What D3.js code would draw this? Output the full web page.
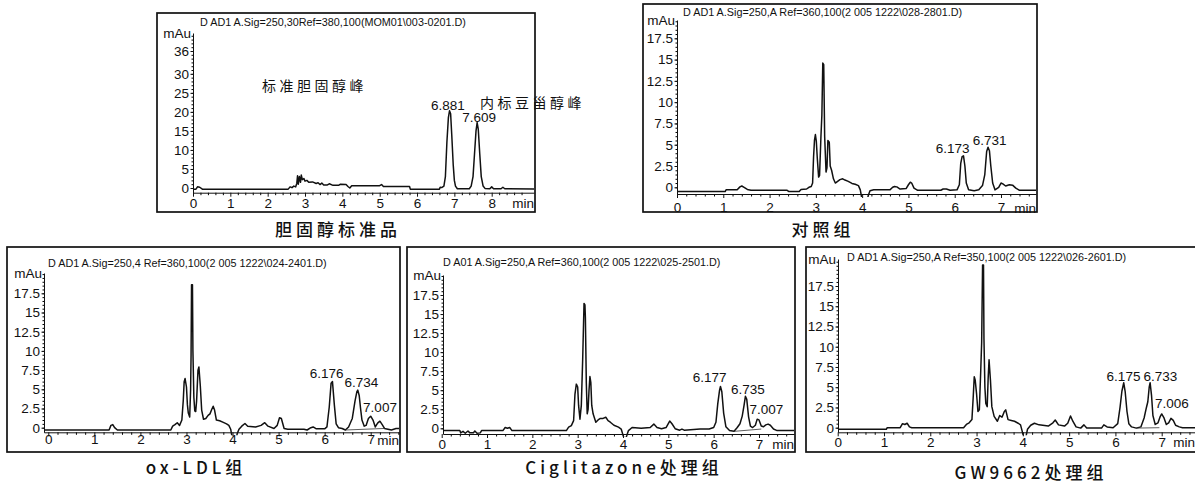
<!DOCTYPE html>
<html>
<head>
<meta charset="utf-8">
<script src="https://cdn.jsdelivr.net/npm/d3@7"></script>
<style>
  body { margin: 0; background: #fff; }
  svg text { font-family: "Liberation Sans", Arial, Helvetica, sans-serif; fill: #111; }
  .cjk { font-family: "Noto Sans CJK SC", "Liberation Sans", sans-serif; }
</style>
</head>
<body>
<svg id="chart" width="1195" height="485"></svg>
<script>
// chromatogram traces, [time (min), signal (mAu)]
const stdTrace = [
  [0,-0.3],[0.08,-0.3],[0.12,0.3],[0.18,0.2],[0.25,-0.3],[2.55,-0.3],[2.6,0.3],[2.65,0.1],[2.7,0.5],
  [2.75,0.3],[2.78,1.2],[2.8,3.2],[2.82,1.0],[2.85,3.0],[2.88,1.5],[2.9,3.4],[2.93,2.2],[2.97,2.5],
  [3.0,1.8],[3.05,2.0],[3.1,1.5],[3.2,1.6],[3.3,1.2],[3.35,1.4],[3.4,0.9],[3.45,1.3],[3.5,0.8],
  [3.6,0.8],[3.65,1.1],[3.75,0.7],[3.9,0.7],[3.95,1.0],[4.1,0.9],[4.15,0.4],[4.2,0],[4.25,0.6],
  [4.5,0.6],[5.0,0.6],[5.05,0.9],[5.1,0.4],[5.8,0.4],[5.82,-0.3],[6.6,-0.3],[6.62,0.2],[6.66,0.1],
  [6.72,0.5],[6.76,3],[6.8,12],[6.84,18.5],[6.87,20.3],[6.9,19.5],[6.93,14],[6.97,6],[7.0,2],
  [7.03,0.5],[7.08,-0.2],[7.4,-0.2],[7.45,0.5],[7.5,3],[7.54,9],[7.58,15],[7.61,17.2],[7.64,15.5],
  [7.68,9],[7.72,3],[7.77,0.5],[7.82,-0.1],[7.95,-0.2],[8.0,0.3],[8.05,-0.2],[8.25,-0.2],[8.3,0.2],
  [8.35,-0.2],[9.2,-0.3]
];
const ctrlTrace = [
  [0,-0.5],[1.04,-0.5],[1.06,-0.3],[1.3,-0.3],[1.36,0.05],[1.4,0.15],[1.45,0.0],[1.52,-0.25],[1.6,-0.35],
  [2.38,-0.35],[2.42,-0.5],[2.64,-0.5],[2.68,-0.25],[2.8,-0.2],[2.85,0.0],[2.9,0.1],[2.93,0.5],[2.95,3.5],
  [2.97,5.5],[2.99,6.2],[3.01,5.4],[3.03,3.5],[3.06,1.2],[3.08,1.4],[3.11,6],[3.13,8.5],[3.15,14.6],
  [3.17,14.4],[3.19,6],[3.22,1.8],[3.24,2.3],[3.26,5.5],[3.29,5.3],[3.31,2.5],[3.34,2.0],[3.38,1.0],
  [3.42,0.5],[3.47,0.7],[3.52,0.9],[3.58,1.0],[3.63,0.85],[3.7,0.7],[3.78,0.45],[3.85,0.35],[3.92,0.2],
  [3.96,-0.3],[3.99,-1.2],[4.05,-2],[4.1,-2],[4.13,-1.0],[4.17,-0.4],[4.25,-0.3],[4.6,-0.3],[4.66,0.0],
  [4.7,0.1],[4.75,0.05],[4.82,-0.2],[4.95,-0.15],[5.0,0.3],[5.04,0.6],[5.07,0.5],[5.12,-0.1],[5.2,-0.35],
  [5.7,-0.35],[5.75,-0.2],[5.82,-0.2],[5.9,-0.35],[6.05,-0.3],[6.1,0.3],[6.13,2.8],[6.16,3.6],[6.19,3.7],
  [6.22,2.5],[6.25,0.5],[6.3,-0.3],[6.42,-0.4],[6.52,-0.3],[6.6,0.2],[6.65,1.5],[6.69,4.2],[6.72,4.7],
  [6.75,4.3],[6.78,2.5],[6.82,0.5],[6.87,-0.3],[6.95,0.0],[7.0,0.5],[7.04,0.4],[7.1,0.15],[7.18,0.3],
  [7.25,0.25],[7.32,-0.1],[7.4,-0.35],[7.9,-0.35]
];
const oxldlTrace = [
  [-0.1,-0.3],[1.32,-0.3],[1.36,0.3],[1.4,0.4],[1.44,0.0],[1.5,-0.3],[2.66,-0.3],[2.7,0.2],[2.75,0.4],
  [2.8,0.65],[2.85,0.3],[2.9,1.0],[2.93,3.5],[2.95,6.0],[2.97,6.4],[3.0,5.3],[3.02,3],[3.04,1.9],
  [3.07,1.4],[3.09,5],[3.1,9.5],[3.11,18.6],[3.13,18.6],[3.14,10],[3.16,4],[3.18,2.2],[3.2,2.1],
  [3.22,3.5],[3.25,7.5],[3.27,7.9],[3.3,5.5],[3.33,2.3],[3.37,1.1],[3.42,1.2],[3.47,1.6],[3.51,1.8],
  [3.55,2.4],[3.58,2.8],[3.61,2.3],[3.65,1.0],[3.72,0.9],[3.8,0.7],[3.87,0.5],[3.92,0.3],[3.96,-0.2],
  [3.99,-1.2],[4.03,-2],[4.07,-2],[4.1,-0.8],[4.14,-0.2],[4.2,0.2],[4.27,0.55],[4.33,0.2],[4.5,0.1],
  [4.62,0.3],[4.7,0.65],[4.77,0.2],[4.9,-0.1],[4.97,0.3],[5.02,1.3],[5.06,1.2],[5.12,-0.1],[5.2,-0.2],
  [5.55,-0.2],[5.62,-0.3],[5.7,0.0],[5.75,0.1],[5.82,-0.15],[6.0,-0.15],[6.05,0.1],[6.1,2.7],[6.14,5.8],
  [6.17,6.0],[6.21,3],[6.25,0.5],[6.3,0.0],[6.38,-0.1],[6.45,-0.3],[6.52,0.1],[6.6,1.2],[6.66,3.5],
  [6.7,4.7],[6.72,4.9],[6.75,4.2],[6.78,2.5],[6.81,1.0],[6.86,0.2],[6.9,0.3],[6.95,1.2],[7.0,1.5],
  [7.05,1.0],[7.1,0.1],[7.15,0.6],[7.2,0.85],[7.25,0.4],[7.3,-0.1],[7.45,-0.3],[7.55,-0.1],[7.7,-0.1]
];
const cigTrace = [
  [0,-0.3],[0.4,-0.3],[0.42,-0.6],[0.47,-0.4],[0.52,-0.65],[0.58,-0.35],[0.62,-0.6],[0.7,-0.6],
  [0.73,-0.35],[0.78,-0.65],[0.85,-0.6],[0.88,-0.3],[1.35,-0.3],[1.4,0.1],[1.45,0.0],[1.5,0.1],
  [1.55,-0.3],[2.75,-0.3],[2.8,0.15],[2.86,0.35],[2.91,1.0],[2.94,4.5],[2.97,5.8],[3.0,5.4],[3.02,3],
  [3.05,1.2],[3.08,3],[3.11,9],[3.14,16.4],[3.16,16.2],[3.17,14.5],[3.19,6],[3.21,1.9],[3.23,2.5],
  [3.25,5],[3.27,6.8],[3.29,6],[3.31,3],[3.34,1.9],[3.4,0.8],[3.45,1.1],[3.5,1.3],[3.56,1.3],
  [3.62,1.45],[3.67,1.0],[3.72,0.8],[3.8,0.4],[3.9,0.15],[3.96,-0.1],[4.0,-0.9],[4.04,-1.6],
  [4.08,-1.0],[4.12,-0.3],[4.2,0.1],[4.4,0.0],[4.6,0.1],[4.68,0.55],[4.75,0.1],[4.85,-0.05],
  [4.95,0.1],[5.03,0.95],[5.08,0.6],[5.15,-0.05],[5.25,-0.25],[5.3,-0.1],[5.35,-0.25],[5.7,-0.1],
  [5.9,-0.1],[6.0,0.1],[6.05,0.8],[6.09,3.2],[6.13,5.0],[6.15,5.5],[6.18,4.8],[6.22,2],[6.27,0.2],
  [6.35,-0.3],[6.45,-0.4],[6.52,0.1],[6.58,0.6],[6.63,1.6],[6.67,3.0],[6.7,4.2],[6.73,3.8],[6.77,1.5],
  [6.81,0.3],[6.86,0.1],[6.92,0.4],[6.96,1.2],[7.0,1.1],[7.05,0.3],[7.1,0.2],[7.15,0.45],[7.2,0.55],
  [7.25,0.4],[7.32,-0.1],[7.4,-0.3],[7.9,-0.3]
];
const gwTrace = [
  [0,-0.2],[1.05,-0.2],[1.07,0.0],[1.35,0.0],[1.4,0.5],[1.45,0.4],[1.5,0.55],[1.55,0.1],[1.6,0.0],
  [2.72,0.0],[2.78,0.4],[2.84,0.6],[2.9,1.0],[2.93,4],[2.95,6.3],[2.97,5.9],[3.0,4.2],[3.03,2.0],
  [3.06,2.2],[3.09,7],[3.11,10.5],[3.13,20.1],[3.15,20.1],[3.16,11],[3.18,5],[3.2,3.0],[3.23,2.6],
  [3.25,6],[3.27,8.4],[3.3,5.9],[3.33,2.6],[3.38,1.4],[3.45,0.8],[3.5,1.5],[3.55,1.3],[3.6,2.0],
  [3.63,2.2],[3.68,1.0],[3.75,0.9],[3.82,0.8],[3.9,0.55],[3.95,0.35],[3.98,-0.3],[4.02,-1.2],
  [4.06,-1.3],[4.1,-0.2],[4.17,0.3],[4.25,0.55],[4.35,0.35],[4.55,0.2],[4.65,0.6],[4.7,0.95],
  [4.77,0.35],[4.9,0.2],[4.97,0.55],[5.03,1.45],[5.08,0.8],[5.15,0.1],[5.25,-0.05],[5.32,0.35],
  [5.38,-0.05],[5.7,-0.05],[5.75,0.35],[5.82,0.1],[5.95,0.0],[6.05,0.5],[6.1,2.5],[6.14,4.5],
  [6.18,5.55],[6.21,4.5],[6.25,2],[6.29,0.5],[6.35,0.1],[6.45,-0.05],[6.55,0.1],[6.62,1.2],[6.67,2.5],
  [6.7,3.2],[6.73,5.0],[6.75,5.55],[6.78,4],[6.81,1.5],[6.86,0.4],[6.92,0.6],[6.97,1.4],[7.0,1.7],
  [7.05,1.2],[7.1,0.4],[7.15,0.6],[7.2,1.15],[7.25,0.9],[7.3,0.3],[7.38,0.1],[7.45,0.0],[7.8,0.0]
];

// retention-time labels: text and apex signal
const stdPeaks = [["6.881", 20.3], ["7.609", 17.2]];
const ctrlPeaks = [["6.173", 3.7], ["6.731", 4.7]];
const oxldlPeaks = [["6.176", 6.0], ["6.734", 4.9], ["7.007", 1.5]];
const cigPeaks = [["6.177", 5.5], ["6.735", 4.2], ["7.007", 1.2]];
const gwPeaks = [["6.175", 5.55], ["6.733", 5.55], ["7.006", 1.7]];

// integration baselines [t1, v1, t2, v2]
const oxldlBase = [[6.45, -0.3, 7.3, -0.1]];
const cigBase = [[6.45, -0.4, 7.05, -0.1]];
const gwBase = [[6.45, -0.05, 6.95, 0.0]];

const yTicksStd = [0, 5, 10, 15, 20, 25, 30, 36];
const yTicks = [0, 2.5, 5, 7.5, 10, 12.5, 15, 17.5];
const xTicksStd = [0, 1, 2, 3, 4, 5, 6, 7, 8];
const xTicks = [0, 1, 2, 3, 4, 5, 6, 7];

const headers = [
  "D AD1 A.Sig=250,30Ref=380,100(MOM01\\003-0201.D)",
  "D AD1 A.Sig=250,A Ref=360,100(2 005 1222\\028-2801.D)",
  "D AD1 A.Sig=250,4 Ref=360,100(2 005 1222\\024-2401.D)",
  "D A01 A.Sig=250,A Ref=360,100(2 005 1222\\025-2501.D)",
  "D AD1 A.Sig=250,A Ref=350,100(2 005 1222\\026-2601.D)"
];
const captions = ["胆固醇标准品", "对照组", "ox-LDL组", "Ciglitazone处理组", "GW9662处理组"];
const notes = ["标准胆固醇峰", "内标豆甾醇峰"];

// layout (pixels): frame box, plot extents, scale calibration
const panels = [
  { trace: stdTrace, peaks: stdPeaks, base: [], yt: yTicksStd, xt: xTicksStd, minorY: 1,
    frame: [157, 13, 535, 212], left: 193, right: 534, axisY: 192.7, top: 33,
    xCal: [0, 8, 193, 491.7], yCal: [0, 36, 188, 51], xLab: 1.7, head: [200, 26], cap: [338, 236],
    nudge: [[-2, -1], [2, -1]] },
  { trace: ctrlTrace, peaks: ctrlPeaks, base: [], yt: yTicks, xt: xTicks, minorY: 0.5,
    frame: [643, 4, 1037, 212], left: 677, right: 1036, axisY: 194, top: 20,
    xCal: [0, 7, 677, 1001], yCal: [0, 17.5, 187.3, 38.3], xLab: 4.9, head: [683, 16], cap: [823, 236],
    nudge: [[-10, -3], [1, -2]] },
  { trace: oxldlTrace, peaks: oxldlPeaks, base: oxldlBase, yt: yTicks, xt: xTicks, minorY: 0.5,
    frame: [7, 247, 400, 452], left: 44, right: 399, axisY: 432.3, top: 273,
    xCal: [0, 7, 48.3, 370.7], yCal: [0, 17.5, 427.7, 293.3], xLab: -1.5, head: [48, 267], cap: [196, 474],
    nudge: [[-6, -4], [3, -3], [9, -4]] },
  { trace: cigTrace, peaks: cigPeaks, base: cigBase, yt: yTicks, xt: xTicks, minorY: 0.5,
    frame: [407, 247, 795, 452], left: 443, right: 794, axisY: 434, top: 275,
    xCal: [0, 7, 441.7, 759], yCal: [0, 17.5, 428.3, 295], xLab: 1.2, head: [443, 266], cap: [624, 474],
    nudge: [[-12, -4], [1, -2], [7, -5]] },
  { trace: gwTrace, peaks: gwPeaks, base: gwBase, yt: yTicks, xt: xTicks, minorY: 0.5,
    frame: [806, 247, 1210, 452], left: 838, right: 1195, axisY: 432.3, top: 259,
    xCal: [0, 7, 837.7, 1161.7], yCal: [0, 17.5, 427.7, 286], xLab: 1.1, head: [847, 261], cap: [1031, 479],
    nudge: [[0, -2], [11, -2], [10, -6]] }
];

const svg = d3.select("#chart");
const tickFont = 13.5;

panels.forEach((p, i) => {
  const g = svg.append("g");
  const [fx0, fy0, fx1, fy1] = p.frame;

  g.append("rect")
    .attr("x", fx0).attr("y", fy0)
    .attr("width", fx1 - fx0).attr("height", fy1 - fy0)
    .attr("fill", "none").attr("stroke", "#111").attr("stroke-width", 1.7);

  const x0 = d3.scaleLinear().domain([p.xCal[0], p.xCal[1]]).range([p.xCal[2], p.xCal[3]]);
  const x = d3.scaleLinear().domain([x0.invert(p.left), x0.invert(p.right)]).range([p.left, p.right]);
  const y0 = d3.scaleLinear().domain([p.yCal[0], p.yCal[1]]).range([p.yCal[2], p.yCal[3]]);
  const y = d3.scaleLinear().domain([y0.invert(p.axisY), y0.invert(p.top)]).range([p.axisY, p.top]);

  const clipId = "clip" + i;
  svg.append("clipPath").attr("id", clipId).append("rect")
    .attr("x", p.left).attr("y", fy0 + 1)
    .attr("width", p.right - p.left).attr("height", p.axisY + 2 - fy0);

  // x axis: minor and major ticks
  const xMax = x.domain()[1];
  const minorX = d3.range(0, xMax, 0.2).filter(v => Math.abs(v - Math.round(v)) > 0.01);
  g.append("g").attr("transform", `translate(0,${p.axisY})`)
    .call(d3.axisBottom(x).tickValues(minorX).tickSize(2.5).tickFormat("").tickSizeOuter(0))
    .call(s => s.select(".domain").remove());
  const xAxis = g.append("g").attr("transform", `translate(0,${p.axisY})`)
    .call(d3.axisBottom(x).tickValues(p.xt).tickSize(4)
      .tickSizeOuter(0).tickPadding(p.xLab).tickFormat(d3.format("d")));
  xAxis.selectAll("text").attr("font-size", tickFont).attr("fill", "#111")
    .attr("font-family", "'Liberation Sans', Arial, sans-serif");
  xAxis.selectAll("line,path").attr("stroke", "#111");
  g.append("text").attr("x", p.right).attr("y", p.axisY + p.xLab + 4 + tickFont * 0.71 + 0.5)
    .attr("text-anchor", "end").attr("font-size", tickFont).text("min");

  // y axis
  const yTop = y.domain()[1];
  const minorYv = d3.range(0, yTop, p.minorY);
  g.append("g").attr("transform", `translate(${p.left},0)`)
    .call(d3.axisLeft(y).tickValues(minorYv).tickSize(1.5).tickFormat("").tickSizeOuter(0))
    .call(s => s.select(".domain").remove());
  const yAxis = g.append("g").attr("transform", `translate(${p.left},0)`)
    .call(d3.axisLeft(y).tickValues(p.yt).tickSize(2.5).tickSizeOuter(0).tickPadding(1.5)
      .tickFormat(d => String(d)));
  yAxis.selectAll("text").attr("font-size", tickFont).attr("fill", "#111")
    .attr("font-family", "'Liberation Sans', Arial, sans-serif");
  yAxis.selectAll("line,path").attr("stroke", "#111");
  g.append("text").attr("x", p.left - 2).attr("y", p.top + 4.5)
    .attr("text-anchor", "end").attr("font-size", tickFont).text("mAu");

  // header
  g.append("text").attr("x", p.head[0]).attr("y", p.head[1])
    .attr("font-size", 10.8).text(headers[i]);

  // trace
  const line = d3.line().x(d => x(d[0])).y(d => y(d[1]));
  g.append("path").datum(p.trace)
    .attr("clip-path", `url(#${clipId})`)
    .attr("fill", "none").attr("stroke", "#111").attr("stroke-width", 1.5)
    .attr("stroke-linejoin", "round").attr("d", line);

  p.base.forEach(b => {
    g.append("line").attr("x1", x(b[0])).attr("y1", y(b[1]))
      .attr("x2", x(b[2])).attr("y2", y(b[3]))
      .attr("stroke", "#333").attr("stroke-width", 0.8);
  });

  // peak labels
  p.peaks.forEach((pk, k) => {
    g.append("text")
      .attr("x", x(+pk[0]) + p.nudge[k][0])
      .attr("y", y(pk[1]) + p.nudge[k][1])
      .attr("text-anchor", "middle").attr("font-size", tickFont).text(pk[0]);
  });

  // caption
  g.append("text").attr("class", "cjk")
    .attr("x", p.cap[0]).attr("y", p.cap[1])
    .attr("text-anchor", "middle").attr("font-size", 17).attr("font-weight", 500)
    .attr("letter-spacing", 4).text(captions[i]);
});

// annotations in the standard panel
svg.append("text").attr("class", "cjk").attr("x", 262).attr("y", 91)
  .attr("font-size", 14).attr("letter-spacing", 3.5).text(notes[0]);
svg.append("text").attr("class", "cjk").attr("x", 480).attr("y", 108)
  .attr("font-size", 14).attr("letter-spacing", 3.5).text(notes[1]);
</script>
</body>
</html>
